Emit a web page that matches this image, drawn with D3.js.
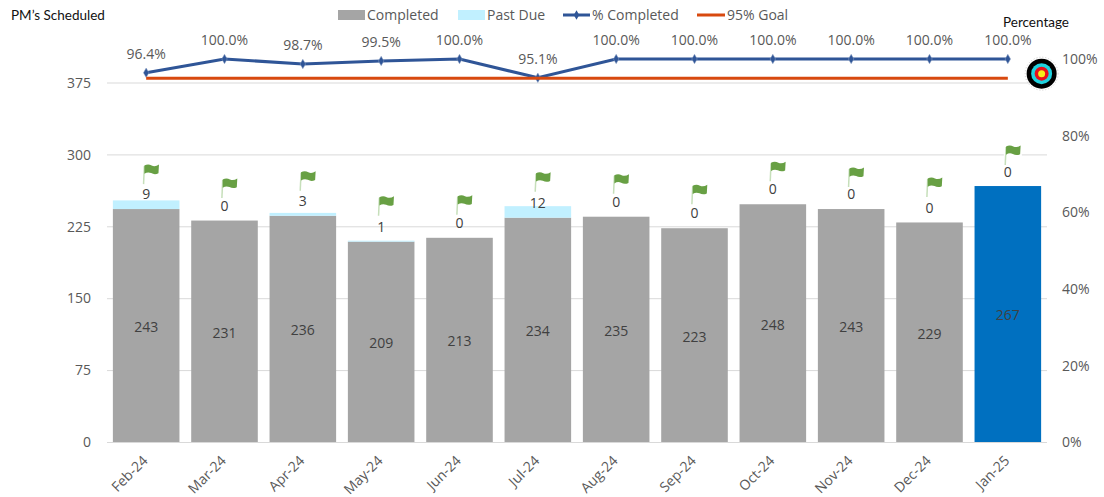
<!DOCTYPE html>
<html>
<head>
<meta charset="utf-8">
<script src="https://cdn.jsdelivr.net/npm/d3@7"></script>
<style>
  html, body { margin: 0; padding: 0; background: #fff; }
  text { font-family: "Open Sans", sans-serif; font-size: 14px; fill: #595959; }
  .title { font-family: Lato, sans-serif; font-size: 13.5px; fill: #111; }
  .val { fill: #404040; }
  .domain { display: none; }
</style>
</head>
<body>
<div id="chart"></div>
<script>
const months = ["Feb-24", "Mar-24", "Apr-24", "May-24", "Jun-24", "Jul-24", "Aug-24", "Sep-24", "Oct-24", "Nov-24", "Dec-24", "Jan-25"];
const completed = [243, 231, 236, 209, 213, 234, 235, 223, 248, 243, 229, 267];
const pastDue = [9, 0, 3, 1, 0, 12, 0, 0, 0, 0, 0, 0];
const pctCompleted = [96.4, 100, 98.7, 99.5, 100, 95.1, 100, 100, 100, 100, 100, 100];
const goal = [95, 95, 95, 95, 95, 95, 95, 95, 95, 95, 95, 95];
// hidden helper series in the original: level of the flag foot and of the past due label
const flagLevel = [269, 254.5, 262, 236, 237, 261, 259, 248, 272, 266, 255.5, 289];
const labelLevel = [259, 246, 251, 224, 228, 249, 250, 239, 264, 259, 244, 282];
const leftTicks = [0, 75, 150, 225, 300, 375];
const rightTicks = [0, 20, 40, 60, 80, 100];
const currentMonth = "Jan-25";

const width = 1104;
const height = 497;

const svg = d3.select("#chart").append("svg")
    .attr("width", width)
    .attr("height", height)
    .style("display", "block");

const x = d3.scaleBand()
    .domain(months)
    .range([107, 1047])
    .paddingInner(0.15)
    .paddingOuter(0.075);
const y = d3.scaleLinear().domain([0, 375]).range([442, 82.5]);
const yPct = d3.scaleLinear().domain([0, 100]).range([442, 59]);
const cx = m => x(m) + x.bandwidth() / 2;

// axes
const gridAxis = svg.append("g")
    .attr("transform", "translate(107,0)")
    .call(d3.axisLeft(y).tickValues(leftTicks).tickSize(-940).tickPadding(16));
gridAxis.selectAll("line").attr("stroke", "#d9d9d9");
gridAxis.selectAll("text").attr("dy", "0.34em");

const rightAxis = svg.append("g")
    .attr("transform", "translate(1047,0)")
    .call(d3.axisRight(yPct).tickValues(rightTicks).tickSize(0).tickPadding(15).tickFormat(d => d + "%"));
rightAxis.selectAll("text").attr("dy", "0.34em");

const bottomAxis = svg.append("g")
    .attr("transform", "translate(0,442)")
    .call(d3.axisBottom(x).tickSize(0).tickPadding(0));
bottomAxis.selectAll("text")
    .attr("text-anchor", "end")
    .attr("transform", "translate(-1,16) rotate(-45)")
    .attr("dy", "0.35em")
    .attr("y", 0);

// bars
svg.selectAll(".completed")
    .data(months)
    .enter().append("rect")
    .attr("class", "completed")
    .attr("x", d => x(d))
    .attr("width", x.bandwidth())
    .attr("y", (d, i) => y(completed[i]))
    .attr("height", (d, i) => y(0) - y(completed[i]))
    .attr("fill", d => d === currentMonth ? "#0070c0" : "#a5a5a5");

svg.selectAll(".pastdue")
    .data(months)
    .enter().append("rect")
    .attr("class", "pastdue")
    .attr("x", d => x(d))
    .attr("width", x.bandwidth())
    .attr("y", (d, i) => y(completed[i] + pastDue[i]))
    .attr("height", (d, i) => y(completed[i]) - y(completed[i] + pastDue[i]))
    .attr("fill", "#c1f0ff");

// labels on the bars
svg.selectAll(".completed-label")
    .data(months)
    .enter().append("text")
    .attr("class", "val")
    .attr("x", cx)
    .attr("y", (d, i) => y(completed[i] / 2) + 1.5)
    .attr("dy", "0.35em")
    .attr("text-anchor", "middle")
    .text((d, i) => completed[i]);

svg.selectAll(".pastdue-label")
    .data(months)
    .enter().append("text")
    .attr("class", "val")
    .attr("x", cx)
    .attr("y", (d, i) => y(labelLevel[i]))
    .attr("dy", "0.35em")
    .attr("text-anchor", "middle")
    .text((d, i) => pastDue[i]);

// flags, with the white picture box that clips a few labels
const flag = svg.selectAll(".flag")
    .data(months)
    .enter().append("g")
    .attr("class", "flag")
    .attr("transform", (d, i) => `translate(${cx(d)},${y(flagLevel[i])})`);
flag.append("rect")
    .attr("x", -4).attr("y", -20).attr("width", 18).attr("height", 21.5)
    .attr("fill", "#fff");
flag.append("path")
    .attr("d", "M-2.6,0 L-1.8,-18")
    .attr("stroke", "#c6dfba")
    .attr("stroke-width", 1.5)
    .attr("fill", "none");
flag.append("path")
    .attr("d", "M-1.8,-18.5 Q2,-20.5 5.5,-18.5 Q9,-17 12.8,-19.5 L12.3,-10.8 Q8.5,-9 5,-11 Q1.5,-12.5 -1.8,-10.3 Z")
    .attr("fill", "#68a044");

// lines
const pctLine = d3.line().x((d, i) => cx(months[i])).y(d => yPct(d));

svg.append("path")
    .datum(pctCompleted)
    .attr("d", pctLine)
    .attr("fill", "none")
    .attr("stroke", "#2f5597")
    .attr("stroke-width", 3);

svg.selectAll(".marker")
    .data(pctCompleted)
    .enter().append("path")
    .attr("class", "marker")
    .attr("d", d3.symbol(d3.symbolDiamond, 26))
    .attr("transform", (d, i) => `translate(${cx(months[i])},${yPct(d)})`)
    .attr("fill", "#2f5597")
    .attr("stroke", "#8fa3c4")
    .attr("stroke-width", 0.5);

svg.append("path")
    .datum(goal)
    .attr("d", pctLine)
    .attr("fill", "none")
    .attr("stroke", "#d8490f")
    .attr("stroke-width", 3);

svg.selectAll(".pct-label")
    .data(pctCompleted)
    .enter().append("text")
    .attr("x", (d, i) => cx(months[i]))
    .attr("y", d => yPct(d) - 19)
    .attr("dy", "0.35em")
    .attr("text-anchor", "middle")
    .text(d => d.toFixed(1) + "%");

// target icon at the end of the goal line
const target = svg.append("g")
    .attr("transform", `translate(${x(currentMonth) + x.bandwidth() + 0.5},${yPct(goal[11]) - 4.5})`);
target.append("circle").attr("r", 16.5).attr("fill", "none")
    .attr("stroke", "#ccc").attr("stroke-width", 1).attr("stroke-dasharray", "1 2");
[[15, "#000"], [10.5, "#1fd3e0"], [7, "#e8101c"], [3.5, "#f6ee1a"]].forEach(r => {
    target.append("circle").attr("r", r[0]).attr("fill", r[1]);
});

// titles
svg.append("text").attr("class", "title").attr("x", 11).attr("y", 15).attr("dy", "0.35em").text("PM’s Scheduled");
svg.append("text").attr("class", "title").attr("x", 1003).attr("y", 22).attr("dy", "0.35em").text("Percentage");

// legend
const legend = svg.append("g");
legend.append("rect").attr("x", 338).attr("y", 10).attr("width", 27).attr("height", 10).attr("fill", "#a5a5a5");
legend.append("text").attr("x", 367).attr("y", 15).attr("dy", "0.35em").text("Completed");
legend.append("rect").attr("x", 458).attr("y", 10).attr("width", 27).attr("height", 10).attr("fill", "#c1f0ff");
legend.append("text").attr("x", 487).attr("y", 15).attr("dy", "0.35em").text("Past Due");
legend.append("line").attr("x1", 563).attr("x2", 590).attr("y1", 15).attr("y2", 15)
    .attr("stroke", "#2f5597").attr("stroke-width", 3);
legend.append("path").attr("d", d3.symbol(d3.symbolDiamond, 26)).attr("transform", "translate(576.5,15)").attr("fill", "#2f5597");
legend.append("text").attr("x", 592).attr("y", 15).attr("dy", "0.35em").text("% Completed");
legend.append("line").attr("x1", 697).attr("x2", 725).attr("y1", 15).attr("y2", 15)
    .attr("stroke", "#d8490f").attr("stroke-width", 3);
legend.append("text").attr("x", 727).attr("y", 15).attr("dy", "0.35em").text("95% Goal");
</script>
</body>
</html>
